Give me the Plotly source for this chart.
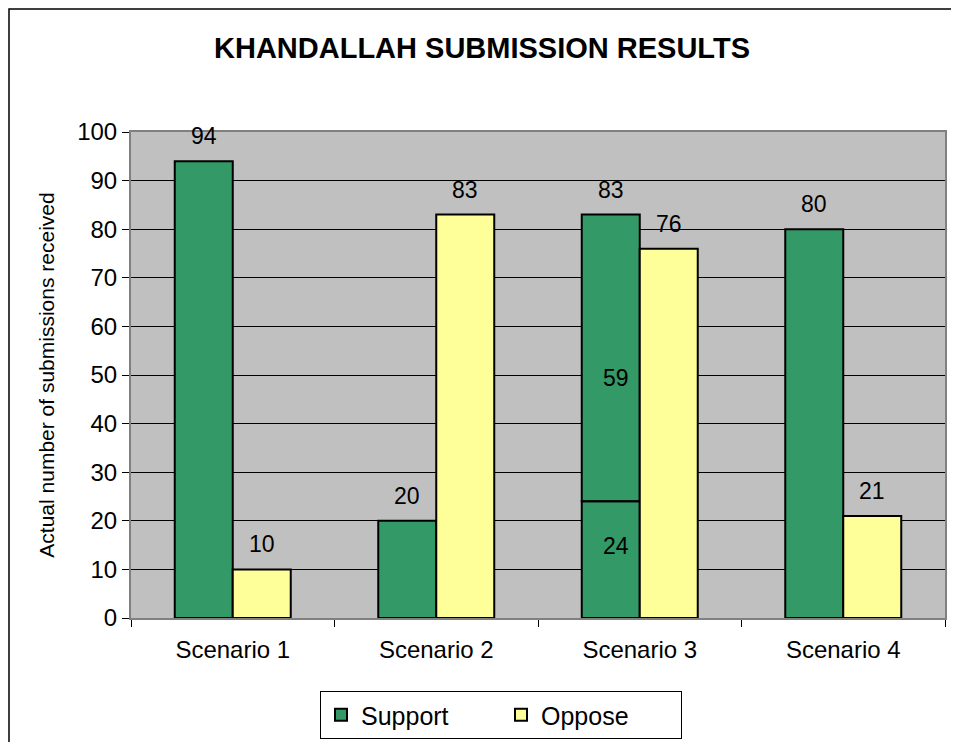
import plotly.graph_objects as go

categories = ["Scenario 1", "Scenario 2", "Scenario 3", "Scenario 4"]
support = [94, 20, 83, 80]
oppose = [10, 83, 76, 21]
# Scenario 3 support split into two parts
split_category = "Scenario 3"
split_parts = [24, 59]

title_text = "KHANDALLAH SUBMISSION RESULTS"
y_title = "Actual number of submissions received"
y_ticks = [0, 10, 20, 30, 40, 50, 60, 70, 80, 90, 100]

GREEN = "#339966"
YELLOW = "#FFFF99"
FONT = "Liberation Sans, Arial, sans-serif"
FS = 23

OFF = 8  # page body margin
W, H = 959, 742
PW, PH = 814, 486
L, T = 131 - OFF, 132 - OFF
R, B = W - L - PW, H - T - PH


def px_x(p):
    return (p - OFF - L) / PW


def px_y(p):
    return (T + PH - (p - OFF)) / PH


split_idx = categories.index(split_category)
lower = [split_parts[0] if i == split_idx else v for i, v in enumerate(support)]
upper = [split_parts[1] if i == split_idx else None for i in range(len(categories))]

fig = go.Figure()
fig.add_trace(go.Bar(
    x=categories, y=lower, name="Support", offsetgroup="s",
    marker=dict(color=GREEN, line=dict(color="black", width=2)),
))
fig.add_trace(go.Bar(
    x=categories, y=upper, base=lower, name="Support", offsetgroup="s",
    showlegend=False,
    marker=dict(color=GREEN, line=dict(color="black", width=2)),
))
fig.add_trace(go.Bar(
    x=categories, y=oppose, name="Oppose", offsetgroup="o",
    marker=dict(color=YELLOW, line=dict(color="black", width=2)),
))

for i, c in enumerate(categories):
    fig.add_annotation(x=c, y=support[i], text=str(support[i]), xref="x", yref="y",
                       showarrow=False, yshift=25, xshift=-29,
                       font=dict(size=FS, color="black", family=FONT))
    fig.add_annotation(x=c, y=oppose[i], text=str(oppose[i]), xref="x", yref="y",
                       showarrow=False, yshift=25, xshift=29,
                       font=dict(size=FS, color="black", family=FONT))
# segment labels for split bar
fig.add_annotation(x=split_category, y=split_parts[0] * 0.62, text=str(split_parts[0]),
                   xref="x", yref="y", showarrow=False, xshift=-24,
                   font=dict(size=FS, color="black", family=FONT))
fig.add_annotation(x=split_category, y=split_parts[0] + split_parts[1] * 0.43,
                   text=str(split_parts[1]), xref="x", yref="y", showarrow=False, xshift=-24,
                   font=dict(size=FS, color="black", family=FONT))

fig.update_layout(
    width=W, height=H,
    margin=dict(l=L, r=R, t=T, b=B, autoexpand=False),
    paper_bgcolor="white", plot_bgcolor="#C0C0C0",
    barmode="group", bargap=0.43, bargroupgap=0,
    font=dict(family=FONT, size=FS, color="black"),
    title=dict(text="<b>" + title_text + "</b>", x=(482 - OFF) / W, xref="container",
               xanchor="center", y=1 - (48 - OFF) / H, yref="container", yanchor="middle",
               font=dict(size=29, color="black", family=FONT)),
    showlegend=True,
    legend=dict(orientation="h", x=px_x(501), y=px_y(715), xanchor="center", yanchor="middle",
                bordercolor="black", borderwidth=1, bgcolor="white",
                font=dict(size=25, family=FONT), entrywidth=135, traceorder="normal"),
)

fig.update_yaxes(range=[0, 100], tickvals=y_ticks, showgrid=True, gridcolor="black", gridwidth=1,
                 ticks="outside", ticklen=7, tickcolor="black", showline=True, linecolor="#808080",
                 linewidth=2, mirror=True, zeroline=False, automargin=False,
                 title=dict(text=y_title, font=dict(size=21, family=FONT), standoff=17),
                 tickfont=dict(size=24, family=FONT))
fig.update_xaxes(showline=True, linecolor="#808080", linewidth=2, mirror=True,
                 ticks="outside", ticklen=7, tickcolor="black", tickson="boundaries",
                 ticklabelstandoff=9,
                 automargin=False, tickfont=dict(size=24, family=FONT), showgrid=False)

# divider line inside split bar drawn at the split value
fig.add_shape(type="line", xref="x", yref="y", x0=split_idx - 0.28, x1=split_idx - 0.005,
              y0=split_parts[0], y1=split_parts[0], line=dict(color="black", width=1.5))

# outer chart border
fig.add_shape(type="rect", xref="paper", yref="paper",
              x0=px_x(9), x1=px_x(990), y0=px_y(780), y1=px_y(9),
              line=dict(color="black", width=1.5), fillcolor="rgba(0,0,0,0)", layer="below")

fig.write_html("out.html")
